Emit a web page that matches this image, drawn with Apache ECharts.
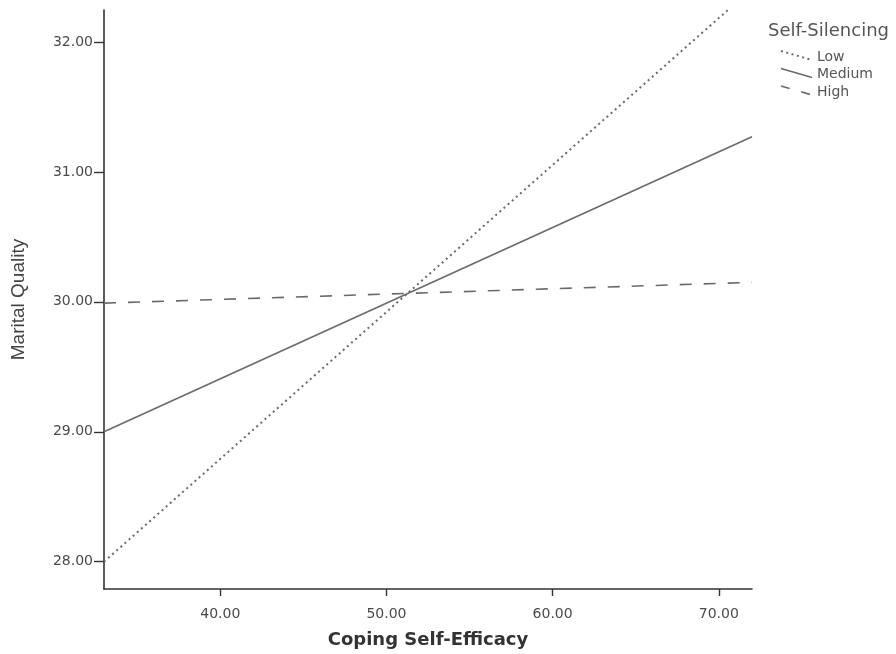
<!DOCTYPE html>
<html>
<head>
<meta charset="utf-8">
<script src="https://cdn.jsdelivr.net/npm/echarts@6/dist/echarts.min.js"></script>
<style>
  html, body { margin: 0; padding: 0; background: #fff; }
  #chart { width: 896px; height: 654px; }
</style>
</head>
<body>
<div id="chart"></div>
<script>
// Simple slopes: marital quality by coping self-efficacy at three levels of self-silencing
const xTicks = [40, 50, 60, 70];
const yTicks = [28, 29, 30, 31, 32];
const seriesNames = ['Low', 'Medium', 'High'];
const lowLine = [[33, 28.00], [72, 32.41]];
const mediumLine = [[33, 29.00], [72, 31.27]];
const highLine = [[33, 29.99], [72, 30.15]];

const lineColor = '#6a6a6a';
const dashes = {
  Low: [2, 3.5],
  Medium: 'solid',
  High: [12, 12]
};
const widths = { Low: 2, Medium: 1.6, High: 1.6 };

const chart = echarts.init(document.getElementById('chart'));

function lineSeries(name, data) {
  return {
    name: name,
    type: 'line',
    data: data,
    symbol: 'none',
    clip: true,
    silent: true,
    lineStyle: { color: lineColor, width: widths[name], type: dashes[name] }
  };
}

// Legend drawn as a small key with slanted line samples
const legendX = 768, legendY = 31;
const keyItems = seriesNames.map((name, i) => {
  const cy = 57 + i * 17.5;
  return [
    {
      type: 'line',
      shape: { x1: legendX + 13, y1: cy - 6, x2: legendX + 44, y2: cy + 3 },
      style: {
        stroke: lineColor,
        lineWidth: widths[name],
        lineDash: dashes[name] === 'solid' ? null : (name === 'High' ? [9, 12] : dashes[name])
      },
      silent: true
    },
    {
      type: 'text',
      x: legendX + 49, y: cy,
      style: {
        text: name, fill: '#555', fontSize: 14,
        fontFamily: 'DejaVu Sans', verticalAlign: 'middle', align: 'left'
      },
      silent: true
    }
  ];
}).flat();

chart.setOption({
  animation: false,
  backgroundColor: '#fff',
  grid: { left: 104, right: 144, top: 10, bottom: 65, containLabel: false, outerBoundsMode: 'none' },
  xAxis: {
    type: 'value',
    min: 33,
    max: 72,
    name: 'Coping Self-Efficacy',
    nameLocation: 'middle',
    nameGap: 42,
    nameTextStyle: { fontSize: 18, fontWeight: 'bold', color: '#333', fontFamily: 'DejaVu Sans' },
    splitLine: { show: false },
    axisLine: { show: true, onZero: false, lineStyle: { color: '#333', width: 1.6 } },
    axisTick: { show: true, length: 7, customValues: xTicks, lineStyle: { color: '#333', width: 1.4 } },
    axisLabel: {
      customValues: xTicks,
      margin: 18,
      fontSize: 14,
      fontFamily: 'DejaVu Sans',
      color: '#4a4a4a',
      formatter: v => v.toFixed(2)
    }
  },
  yAxis: {
    type: 'value',
    min: 27.79,
    max: 32.246,
    name: 'Marital Quality',
    nameLocation: 'middle',
    nameGap: 76,
    nameRotate: 90,
    nameTextStyle: { fontSize: 19, color: '#444', fontFamily: 'Liberation Sans' },
    splitLine: { show: false },
    axisLine: { show: true, onZero: false, lineStyle: { color: '#333', width: 1.6 } },
    axisTick: { show: true, length: 10, customValues: yTicks, lineStyle: { color: '#333', width: 1.4 } },
    axisLabel: {
      customValues: yTicks,
      margin: 11,
      fontSize: 14,
      fontFamily: 'DejaVu Sans',
      color: '#4a4a4a',
      formatter: v => v.toFixed(2)
    }
  },
  series: [
    lineSeries('Low', lowLine),
    lineSeries('Medium', mediumLine),
    lineSeries('High', highLine)
  ],
  graphic: [
    {
      type: 'text',
      x: legendX, y: legendY,
      style: {
        text: 'Self-Silencing', fill: '#555', fontSize: 18,
        fontFamily: 'DejaVu Sans', verticalAlign: 'middle', align: 'left'
      },
      silent: true
    }
  ].concat(keyItems)
});
</script>
</body>
</html>
